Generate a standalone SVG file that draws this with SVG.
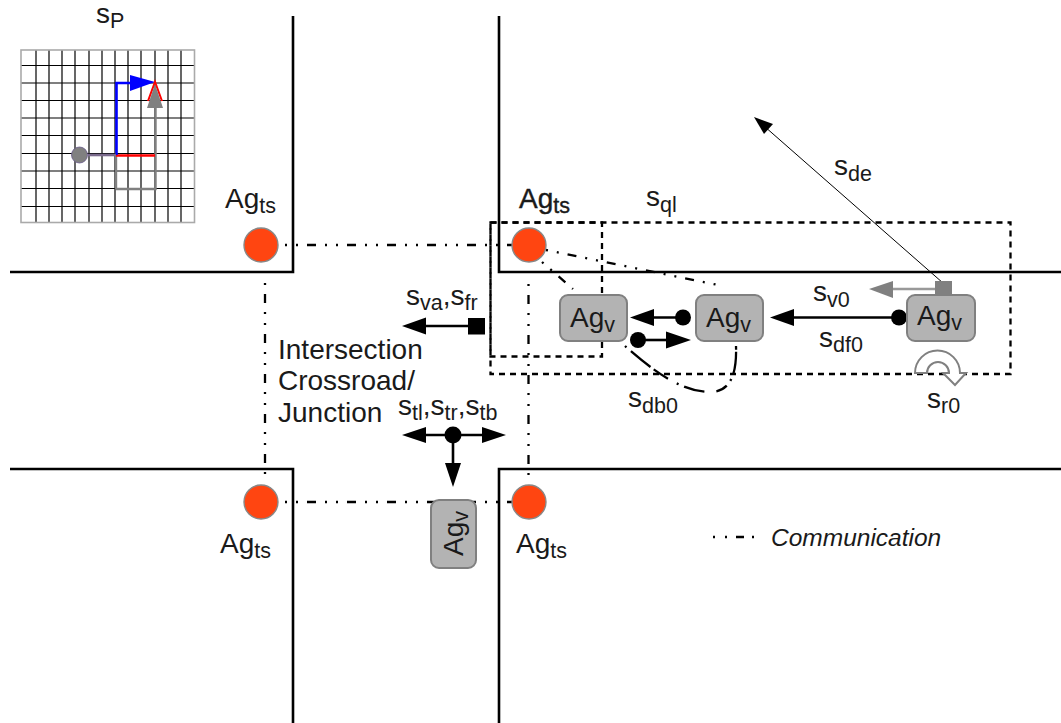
<svg xmlns="http://www.w3.org/2000/svg" width="1061" height="723" viewBox="0 0 1061 723">
<defs>
<style>
text{font-family:"Liberation Sans",Arial,sans-serif;fill:#1a1a1a;font-size:28px}
.sub{font-size:21.500px}
.wall{fill:none;stroke:#000;stroke-width:2.6}
.grid line{stroke:#000;stroke-width:1.2}
.gridg{stroke:#aaa;stroke-width:1.6}
.dash{fill:none;stroke:#000;stroke-width:2.3;stroke-dasharray:6 5}
.comm{fill:none;stroke:#000;stroke-width:2.3;stroke-dasharray:2 9 2 9 9 9}
.ar{stroke:#000;stroke-width:2.6;fill:none}
.ts{fill:#ff4511;stroke:#888;stroke-width:1.4}
.box{fill:#b3b3b3;stroke:#808080;stroke-width:2}
</style>
</defs>
<g id="walls">
<path class="wall" d="M10,272H293V16"/>
<path class="wall" d="M499,16V272H1061"/>
<path class="wall" d="M10,469H293V723"/>
<path class="wall" d="M1061,469H499V723"/>
</g>
<g id="grid-sp">
<g class="grid">
<line x1="36" x2="36" y1="50" y2="222"/><line x1="49" x2="49" y1="50" y2="222"/><line x1="62" x2="62" y1="50" y2="222"/><line x1="75" x2="75" y1="50" y2="222"/><line x1="89" x2="89" y1="50" y2="222"/><line x1="102" x2="102" y1="50" y2="222"/><line x1="115" x2="115" y1="50" y2="222"/><line x1="128" x2="128" y1="50" y2="222"/><line x1="141" x2="141" y1="50" y2="222"/><line x1="155" x2="155" y1="50" y2="222"/><line x1="168" x2="168" y1="50" y2="222"/><line x1="181" x2="181" y1="50" y2="222"/>
<line x1="21" x2="195" y1="65.500" y2="65.500"/><line x1="21" x2="195" y1="83" y2="83"/><line x1="21" x2="195" y1="100.500" y2="100.500"/><line x1="21" x2="195" y1="118" y2="118"/><line x1="21" x2="195" y1="135.500" y2="135.500"/><line x1="21" x2="195" y1="153.500" y2="153.500"/><line x1="21" x2="195" y1="171" y2="171"/><line x1="21" x2="195" y1="188.500" y2="188.500"/><line x1="21" x2="195" y1="206.500" y2="206.500"/>
</g>
<rect class="gridg" x="21" y="50" width="173.500" height="172.500" fill="none"/>
<path d="M116,189H155.500V100M116,155V189" fill="none" stroke="#808080" stroke-width="2.400"/>
<path d="M116,155.500H155" fill="none" stroke="#f00" stroke-width="2.400"/>
<path d="M116.500,155V83H132" fill="none" stroke="#00f" stroke-width="2.600"/>
<path d="M88,155H116" stroke="#7a6a8c" stroke-width="2.600"/>
<polygon points="130,75 155,82 130,91" fill="#00f"/>
<path d="M148,101L155,82L162,101" fill="none" stroke="#f00" stroke-width="2"/>
<polygon points="155,84 147,108 163,108" fill="#808080"/>
<circle cx="79.500" cy="155" r="8" fill="#808080" stroke="#6a5a8c" stroke-width="0.800"/>
<text x="96" y="23">s<tspan class="sub" dy="5">P</tspan></text>
</g>
<g id="regions">
<rect class="dash" x="490.500" y="222.500" width="520" height="151.500"/>
<rect class="dash" x="490.500" y="222.500" width="111.500" height="134"/>
</g>
<g id="connectors">
<path class="comm" d="M285,245H512"/>
<path class="comm" style="stroke-dashoffset:11" d="M265,283V482"/>
<path class="comm" d="M285,502H512"/>
<path class="comm" style="stroke-dashoffset:11" d="M528.500,284V476"/>
<path class="comm" d="M546,250L718,285"/>
<path class="comm" d="M542,262L573,289"/>
<path class="comm" style="stroke-dasharray:2 6 25 4 17 10 2 6 21 12 12 6 2 6 22" d="M625,346C650,368 680,392 710,392C730,392 737,375 736,346"/>
<path class="comm" style="stroke-dasharray:2 10 2 9 8 8 2 99" d="M713,537H760"/>
<path style="stroke:#000;stroke-width:1;fill:none" d="M943,283L764,126"/>
<polygon points="754,117 773,124 764,134" fill="#000"/>
<path d="M944,289H890" stroke="#999" stroke-width="2.500"/>
<polygon points="869,289 893,281 893,298" fill="#808080"/>
<rect x="935" y="281" width="17" height="17" fill="#808080"/>
<path class="ar" d="M899,317.500H790"/>
<polygon points="770,317.500 794,309 794,326" fill="#000"/>
<circle cx="899" cy="317.500" r="8" fill="#000"/>
<path class="ar" d="M683,317.500H650"/>
<polygon points="630,317.500 654,309 654,326" fill="#000"/>
<circle cx="683" cy="317.500" r="8" fill="#000"/>
<path class="ar" d="M638,340H670"/>
<polygon points="691,340 666,331.500 666,348.500" fill="#000"/>
<circle cx="638" cy="340" r="8" fill="#000"/>
<path class="ar" d="M477,326H420"/>
<polygon points="402,326 426,317.500 426,334.500" fill="#000"/>
<rect x="468" y="318" width="17" height="16.500" fill="#000"/>
<path class="ar" d="M420,435H490M453,435V465"/>
<polygon points="402,435 426,427 426,443" fill="#000"/>
<polygon points="506,435 482,427 482,443" fill="#000"/>
<polygon points="453,487 445,463 461,463" fill="#000"/>
<circle cx="453" cy="435" r="8.500" fill="#000"/>
<path d="M915,373A22.500,22.500 0 0 1 960,373H966L955,385L943,373H949A11,11 0 0 0 927,373Z" fill="#fff" stroke="#808080" stroke-width="2"/>
</g>
<g id="ts-1"><circle class="ts" cx="261" cy="245" r="17"/><text x="225" y="208">Ag<tspan class="sub" dy="5">ts</tspan></text></g>
<g id="ts-2"><circle class="ts" cx="529" cy="245" r="17"/><text x="519" y="208" stroke="#1a1a1a" stroke-width="0.400">Ag<tspan class="sub" dy="5">ts</tspan></text></g>
<g id="ts-3"><circle class="ts" cx="261" cy="502" r="17"/><text x="220" y="553">Ag<tspan class="sub" dy="5">ts</tspan></text></g>
<g id="ts-4"><circle class="ts" cx="529" cy="502" r="17"/><text x="516" y="553">Ag<tspan class="sub" dy="5">ts</tspan></text></g>
<g id="v-1"><rect class="box" x="560" y="295" width="67" height="46" rx="8"/><text x="570" y="327">Ag<tspan class="sub" dy="5">v</tspan></text></g>
<g id="v-2"><rect class="box" x="696" y="295" width="67" height="46" rx="8"/><text x="706" y="327">Ag<tspan class="sub" dy="5">v</tspan></text></g>
<g id="v-3"><rect class="box" x="907" y="295" width="68" height="46" rx="8"/><text x="917" y="325">Ag<tspan class="sub" dy="5">v</tspan></text></g>
<g id="v-4"><rect class="box" x="431" y="500" width="45" height="68" rx="8"/><text transform="translate(463,556) rotate(-90)">Ag<tspan class="sub" dy="5">v</tspan></text></g>
<g id="labels">
<text x="646" y="206">s<tspan class="sub" dy="6">ql</tspan></text>
<text x="834" y="175">s<tspan class="sub" dy="6">de</tspan></text>
<text x="813" y="301">s<tspan class="sub" dy="6">v0</tspan></text>
<text x="819" y="347">s<tspan class="sub" dy="5">df0</tspan></text>
<text x="927" y="408">s<tspan class="sub" dy="5">r0</tspan></text>
<text x="628" y="407">s<tspan class="sub" dy="6">db0</tspan></text>
<text x="406" y="305">s<tspan class="sub" dy="5">va</tspan><tspan dy="-5">,s</tspan><tspan class="sub" dy="5">fr</tspan></text>
<text x="398" y="415">s<tspan class="sub" dy="5">tl</tspan><tspan dy="-5">,s</tspan><tspan class="sub" dy="5">tr</tspan><tspan dy="-5">,s</tspan><tspan class="sub" dy="5">tb</tspan></text>
<text x="278" y="359">Intersection</text>
<text x="278" y="390">Crossroad/</text>
<text x="278" y="422">Junction</text>
<text x="771" y="546" font-style="italic" style="font-size:24.500px">Communication</text>
</g>
</svg>
